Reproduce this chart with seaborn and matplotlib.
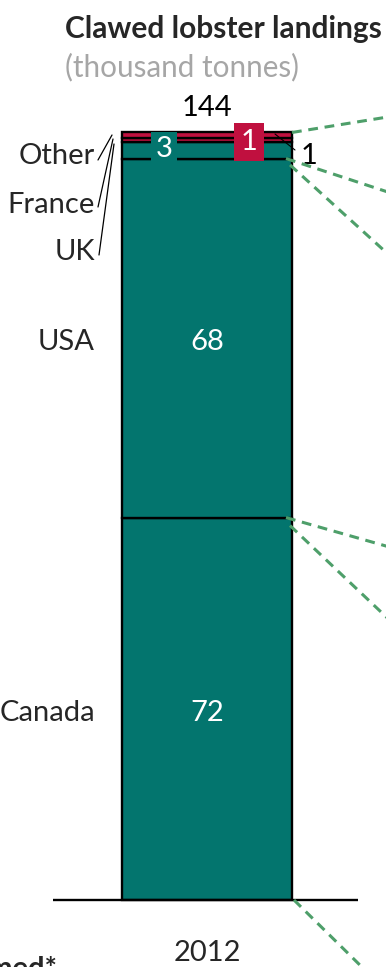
import matplotlib
matplotlib.use("Agg")
import matplotlib.pyplot as plt
import seaborn as sns
import pandas as pd
import numpy as np

# ---- data ----
year = "2012"
countries = ["Canada", "USA", "UK", "France", "Other"]
values = [71.9, 67.5, 3.2, 0.75, 0.95]
value_labels = ["72", "68", "3", "1", "1"]
total_label = "144"
title = "Clawed lobster landings"
subtitle = "(thousand tonnes)"
footer = "Farmed*"

TEAL = "#03756E"
CRIMSON = "#C0103F"
GREEN = "#4E9F6A"
seg_colors = [TEAL, TEAL, TEAL, CRIMSON, CRIMSON]

sns.set_theme(style="white")
plt.rcParams["font.family"] = ["Lato", "DejaVu Sans"]

W, H = 386, 967
fig = plt.figure(figsize=(W / 100, H / 100), dpi=100)
ax = fig.add_axes([0, 0, 1, 1])

# pixel layout helpers (figure pixels measured from top-left)
BASE_PX = 900.0
CENTER_PX = 207.0
BAR_W_PX = 170.0
S = 5.319  # pixels per thousand tonnes
TXT_SHIFT = 4 / S  # visual centring correction for text

def dx(px):
    return (px - CENTER_PX) / BAR_W_PX

def dy(py):
    return (BASE_PX - py) / S

bottoms = np.concatenate([[0], np.cumsum(values)[:-1]])
for c, v, b, col in zip(countries, values, bottoms, seg_colors):
    df = pd.DataFrame({"year": [year], "value": [v]})
    sns.barplot(data=df, x="year", y="value", bottom=b, color=col,
                width=1.0, edgecolor="black", linewidth=1.7, ax=ax,
                saturation=1)

ax.set_xlim(dx(0), dx(W))
ax.set_ylim(dy(H), dy(0))
ax.set_axis_off()

# baseline
ax.plot([dx(53), dx(358)], [0, 0], color="black", lw=1.7, solid_capstyle="butt",
        zorder=5)

FS = 21
tops = np.cumsum(values)
total = tops[-1]

def label(x, y, s, **kw):
    kw.setdefault("fontsize", FS)
    kw.setdefault("va", "center")
    return ax.text(x, y - TXT_SHIFT, s, **kw)

# value labels
label(0, values[0] / 2, value_labels[0], color="white", ha="center")
label(0, bottoms[1] + values[1] / 2, value_labels[1], color="white", ha="center")
# UK boxed label
label(dx(164), dy(145), value_labels[2], color="white", ha="center",
      bbox=dict(boxstyle="square,pad=0.14", fc=TEAL, ec="none"), zorder=6)
# France boxed label
label(dx(249), dy(138), value_labels[3], color="white", ha="center",
      bbox=dict(boxstyle="square,pad=0.22", fc=CRIMSON, ec="none"), zorder=6)
# Other label outside with leader
label(dx(301), dy(152), value_labels[4], color="black", ha="left")
ax.plot([dx(275), dx(295)], [dy(134), dy(150)], color="black", lw=0.8)

# total
label(0, dy(104), total_label, ha="center", color="black")

# country labels
label(dx(95), bottoms[0] + values[0] / 2, countries[0], ha="right")
label(dx(95), bottoms[1] + values[1] / 2, countries[1], ha="right")
label(dx(95), dy(248), countries[2], ha="right")
label(dx(95), dy(201), countries[3], ha="right")
label(dx(95), dy(152), countries[4], ha="right")
for (x0, y0, x1, y1) in [(98, 160, 112, 135), (98, 207, 113, 139), (99, 255, 114, 144)]:
    ax.plot([dx(x0), dx(x1)], [dy(y0), dy(y1)], color="black", lw=0.9)

# year label
label(0, dy(949), year, ha="center")

# title
fig.text(65 / W, 1 - 29 / H, title, ha="left", va="center", fontsize=21.5, fontweight="bold")
fig.text(65 / W, 1 - 67 / H, subtitle, ha="left", va="center", fontsize=21.3, color="#A6A6A6")
# footer (cut off at left/bottom edge, as in the reference)
fig.text(58 / W, 1 - 977 / H, footer, ha="right", va="baseline", fontsize=FS, fontweight="bold")

# dashed connector lines to a neighbouring panel
right = 0.5
dash = dict(color=GREEN, lw=2.2, ls=(0, (3.2, 2.2)), zorder=7)
ax.plot([right, dx(400)], [total, dy(115)], **dash)
ax.plot([dx(286), dx(400)], [tops[1], dy(196)], **dash)
ax.plot([dx(290), dx(400)], [tops[1] - 1.2, dy(265)], **dash)
ax.plot([dx(286), dx(400)], [tops[0], dy(550)], **dash)
ax.plot([dx(290), dx(400)], [tops[0] - 1.5, dy(630)], **dash)
ax.plot([dx(294), dx(370)], [0, dy(975)], **dash)

fig.savefig("out.png", dpi=100)
